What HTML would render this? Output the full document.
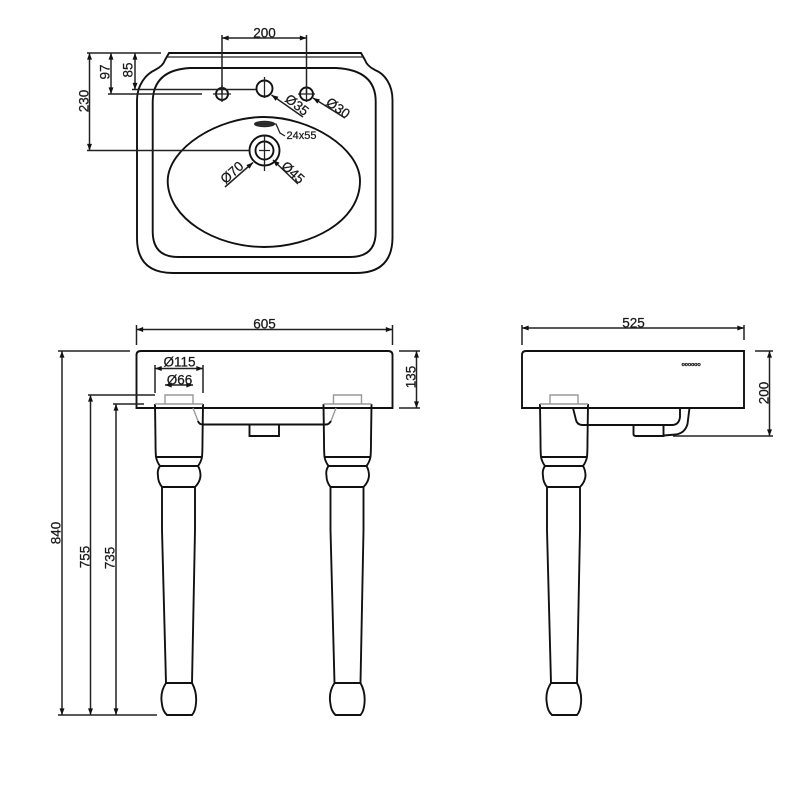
<!DOCTYPE html>
<html>
<head>
<meta charset="utf-8">
<style>
html,body{margin:0;padding:0;background:#fff;width:800px;height:800px;overflow:hidden}
svg{display:block}
text{font-family:"Liberation Sans",sans-serif;font-size:13.5px;fill:#1a1a1a;stroke:#1a1a1a;stroke-width:.25;text-anchor:middle;dominant-baseline:central}
.l{fill:none;stroke:#111;stroke-width:1.9}
.t{fill:none;stroke:#222;stroke-width:1.3}
.d{fill:none;stroke:#222;stroke-width:1.5}
.g{fill:none;stroke:#999;stroke-width:1.4}
</style>
</head>
<body>
<svg width="800" height="800" viewBox="0 0 800 800" xmlns="http://www.w3.org/2000/svg">
<defs>
<marker id="a" viewBox="0 0 8 6" refX="8" refY="3" markerWidth="7" markerHeight="5" markerUnits="userSpaceOnUse" orient="auto-start-reverse"><path d="M0 0L8 3L0 6Z" fill="#111"/></marker>
<g id="leg">
<path class="l" d="M155 404L155.500 440Q155.500 452 156 457Q157 462 160 466Q157 470 158 476Q158 482 162 487L162 530L166 683Q160 692 161.800 703Q162.500 711 167 715L192 715Q195.500 711 196 703Q197 692 192 683L195 530L195 487Q200 482 200.500 476Q200.500 470 198 466Q201 462 202 457Q202.500 452 202.500 440L203 404"/>
<path class="l" d="M156 457H202M160 466H198M162 487H195M166 683H192"/>
<path class="g" d="M155 404H203M165 404V395H193V404"/>
</g>
</defs>

<!-- TOP VIEW -->
<path class="l" d="M169 53H361L365 60Q367 66 375 70C385 74 392.500 85 392.500 100V238Q392 273 356 273H173Q137 273 137 238V100C137 85 146 74 155 70Q163 66 165 60Z"/>
<path class="t" d="M167 57H363"/>
<path class="l" d="M190 68H336Q376 70 375.700 102V232Q375.700 257 350 257H178Q153 257 152.700 232V102Q153 70 190 68Z"/>
<path class="l" d="M264 117C310 117 360 148 360 181C360 222 310 247 264 247C215 247 168 218 167.700 181C168 148 218 117 264 117Z"/>
<circle class="l" cx="222" cy="94" r="6"/>
<circle class="l" cx="264.500" cy="88.500" r="8"/>
<circle class="l" cx="306.500" cy="94" r="6.500"/>
<circle class="l" cx="264.500" cy="150.500" r="15"/>
<circle class="l" cx="264.500" cy="150.500" r="9"/>
<path class="t" d="M213 94H231M222 85V102M264.500 77V98M298 94H315M306.500 86V102M264.500 135V171M259 150.500H270"/>
<ellipse cx="264.500" cy="124" rx="10" ry="2.700" fill="#333" stroke="#222"/>
<path class="t" d="M255 124H276L280 133L285 136"/>

<!-- top view dims -->
<path class="d" d="M222 35V94M306.500 35V94"/>
<path class="d" marker-start="url(#a)" marker-end="url(#a)" d="M222 38H306.500"/>
<text x="264.500" y="33">200</text>
<path class="d" d="M87 53H161M87 150.500H250M108 94H202M132 89.500H256"/>
<path class="d" marker-start="url(#a)" marker-end="url(#a)" d="M89.500 53V150.500"/>
<path class="d" marker-start="url(#a)" marker-end="url(#a)" d="M111 53V94"/>
<path class="d" marker-start="url(#a)" marker-end="url(#a)" d="M135 53V89.500"/>
<text transform="translate(84 101) rotate(-90)">230</text>
<text transform="translate(105 72) rotate(-90)">97</text>
<text transform="translate(128 70) rotate(-90)">85</text>

<path class="d" marker-start="url(#a)" d="M271.500 95L303 117"/>
<path class="d" marker-start="url(#a)" d="M313 98L345 118"/>
<path class="d" marker-start="url(#a)" d="M253 162.500L225 187"/>
<path class="d" marker-start="url(#a)" d="M273 160L298 184"/>
<text transform="translate(297 105) rotate(38)">Ø35</text>
<text transform="translate(338 108) rotate(35)">Ø30</text>
<text transform="translate(232 172.500) rotate(-42)">Ø70</text>
<text transform="translate(293 172.500) rotate(42)">Ø45</text>
<text x="301.500" y="136" style="font-size:11px">24x55</text>

<!-- FRONT VIEW -->
<path class="l" d="M136.500 408V355Q136.500 351 141 351H388Q392.500 351 392.500 355V408Z"/>
<use href="#leg"/>
<use href="#leg" x="168.500"/>
<path class="g" d="M193 408L198 421"/>
<path class="g" d="M336 408L331 421"/>
<path class="l" d="M198 421Q199 424.500 203 424.500H326Q329 424.500 331 421"/>
<path class="l" d="M249.500 424.500V436H279V424.500"/>

<!-- front dims -->
<path class="d" d="M136.500 325V345M392.500 325V345"/>
<path class="d" marker-start="url(#a)" marker-end="url(#a)" d="M136.500 329.500H392.500"/>
<text x="264.500" y="324">605</text>
<path class="d" d="M399 351H420M399 408H420"/>
<path class="d" marker-start="url(#a)" marker-end="url(#a)" d="M416.500 351V408"/>
<text transform="translate(411 377) rotate(-90)">135</text>
<path class="d" d="M58 351H130M88 395H155M113 404H144M58 715H157"/>
<path class="d" marker-start="url(#a)" marker-end="url(#a)" d="M62 351V715"/>
<path class="d" marker-start="url(#a)" marker-end="url(#a)" d="M90.500 395V715"/>
<path class="d" marker-start="url(#a)" marker-end="url(#a)" d="M116 404V715"/>
<text transform="translate(56 533) rotate(-90)">840</text>
<text transform="translate(85 557) rotate(-90)">755</text>
<text transform="translate(110 558) rotate(-90)">735</text>
<path class="d" d="M155 365V393M203 365V393"/>
<path class="d" marker-start="url(#a)" marker-end="url(#a)" d="M155 368.500H203"/>
<text x="179.500" y="362">Ø115</text>
<path class="d" marker-start="url(#a)" marker-end="url(#a)" d="M165 385H193"/>
<text x="179.500" y="380">Ø66</text>

<!-- SIDE VIEW -->
<path class="l" d="M522 408V355Q522 351 526 351H744V408Z"/>
<use href="#leg" x="385"/>
<path class="l" d="M573 408L576 420Q577 424.500 582 425H672Q679 425 680 417V408"/>
<path class="l" d="M633.500 425V434Q633.500 436 636 436H663.500V425"/>
<path class="l" d="M689.500 408L687.500 424Q685 433 676 434.500L663.500 435.500"/>
<text x="691" y="365" style="font-size:5.500px;font-weight:bold;letter-spacing:-.2px">oooooo</text>

<!-- side dims -->
<path class="d" d="M522 325V345M744 325V340"/>
<path class="d" marker-start="url(#a)" marker-end="url(#a)" d="M522 328H744"/>
<text x="633.500" y="323">525</text>
<path class="d" d="M755 351H773M673 436H773"/>
<path class="d" marker-start="url(#a)" marker-end="url(#a)" d="M769.500 351V436"/>
<text transform="translate(764 393) rotate(-90)">200</text>
</svg>
</body>
</html>
